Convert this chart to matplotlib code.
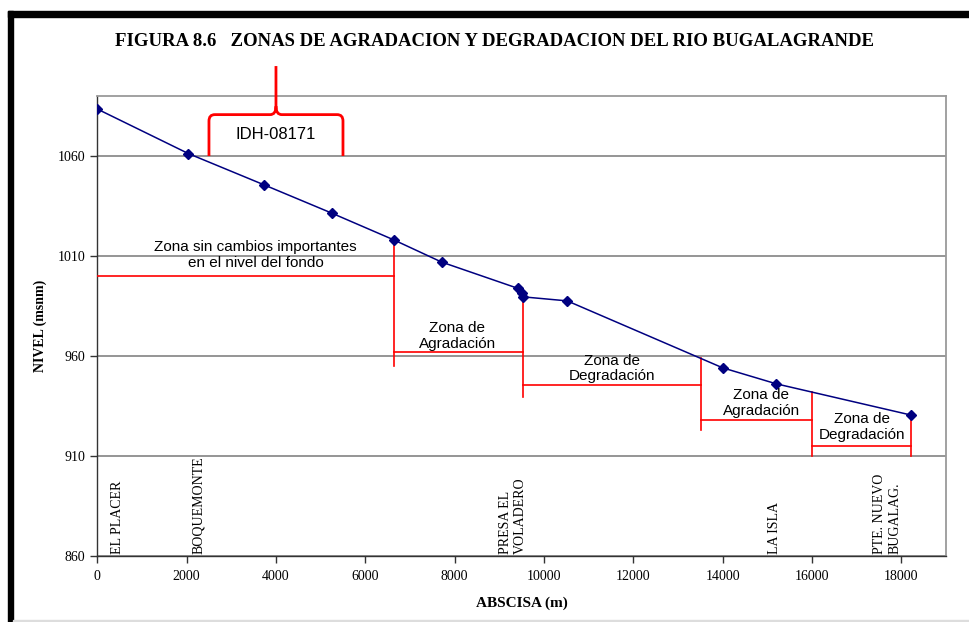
import numpy as np
import matplotlib
matplotlib.use("Agg")
import matplotlib.pyplot as plt
from matplotlib.path import Path
from matplotlib.patches import PathPatch, Rectangle

# perfil del fondo del rio (abscisa m, nivel msnm)
abscisa = [0, 2040, 3740, 5250, 6640, 7710, 9425, 9500, 9540, 10520, 14000, 15200, 18210]
nivel = [1083.5, 1061.2, 1045.5, 1031.4, 1018.0, 1006.9, 993.7, 991.5, 989.5, 987.5, 954.0, 946.0, 930.4]

# zonas
zona_x0 = [0, 6640, 9540, 13510, 16010]
zona_x1 = [6640, 9540, 13510, 16010, 18210]
zona_y = [1000, 962, 945.5, 928, 915]
zona_txt = ["Zona sin cambios importantes\nen el nivel del fondo",
            "Zona de\nAgradación", "Zona de\nDegradación",
            "Zona de\nAgradación", "Zona de\nDegradación"]
zona_tx = [3540, 8055, 11520, 14860, 17120]
zona_ty = [1010.3, 970, 953.6, 936.3, 924.5]

# cortes verticales entre zonas
corte_x = [6640, 9540, 13510, 16010, 18210]
corte_ytop = [1018, 989.5, 958.7, 942, 930.4]
corte_ybot = [955, 939.5, 923, 910, 910]

# sitios
sitios = ["EL PLACER", "BOQUEMONTE", "PRESA EL\nVOLADERO", "LA ISLA", "PTE. NUEVO\nBUGALAG."]
sitio_x = [463, 2277, 9307, 15150, 17680]

# llave IDH
idh_x0, idh_x1, idh_y0, idh_y1, idh_top = 2500, 5500, 1060, 1080.7, 1105

serif = "Liberation Serif"
sans = "Liberation Sans"
rojo = "#ff0000"

fig = plt.figure(figsize=(9.7, 6.22), dpi=100)
ax = fig.add_axes([0.1003, 0.1066, 0.875, 0.739])

ax.plot(abscisa, nivel, color="#000080", lw=1.1, marker="D", ms=4.8, zorder=5)

ax.set_xlim(0, 19000)
ax.set_ylim(860, 1090)
ax.set_xticks(np.arange(0, 18001, 2000))
ax.set_yticks([860, 910, 960, 1010, 1060])
ax.yaxis.grid(True, color="#8c8c8c", lw=1.3)
ax.set_axisbelow(True)
for lab in ax.get_xticklabels() + ax.get_yticklabels():
    lab.set_fontfamily(serif)
    lab.set_fontsize(10)
ax.tick_params(axis="both", direction="out", length=5, width=1, colors="#333333", labelcolor="black")
ax.tick_params(axis="x", pad=5)
for s in ["top", "right"]:
    ax.spines[s].set_color("#9a9a9a")
    ax.spines[s].set_linewidth(1.3)
for s in ["left", "bottom"]:
    ax.spines[s].set_color("#333333")
    ax.spines[s].set_linewidth(1.0)

ax.set_xlabel("ABSCISA (m)", fontfamily=serif, fontweight="bold", fontsize=11, labelpad=10)
ax.set_ylabel("NIVEL (msnm)", fontfamily=serif, fontweight="bold", fontsize=10, labelpad=8)

# zonas
for x0, x1, y in zip(zona_x0, zona_x1, zona_y):
    ax.plot([x0, x1], [y, y], color=rojo, lw=1.2, zorder=3)
for x, yt, yb in zip(corte_x, corte_ytop, corte_ybot):
    ax.plot([x, x], [yt, yb], color=rojo, lw=1.2, zorder=3)
for t, x, y in zip(zona_txt, zona_tx, zona_ty):
    ax.text(x, y, t, ha="center", va="center", fontfamily=sans, fontsize=11, linespacing=1.15, zorder=6)

# sitios
for t, x in zip(sitios, sitio_x):
    ax.text(x, 861, t, rotation=90, ha="center", va="bottom", multialignment="left",
            fontfamily=serif, fontsize=10, linespacing=1.2)

# llave IDH-08171
xm = (idh_x0 + idh_x1) / 2
rx, ry = 130, 3.2
verts = [(idh_x0, idh_y0), (idh_x0, idh_y1 - ry), (idh_x0, idh_y1), (idh_x0 + rx, idh_y1),
         (xm - rx, idh_y1), (xm, idh_y1), (xm, idh_y1 + ry + 1),
         (xm, idh_top),
         (xm, idh_y1 + ry + 1), (xm, idh_y1), (xm + rx, idh_y1),
         (idh_x1 - rx, idh_y1), (idh_x1, idh_y1), (idh_x1, idh_y1 - ry), (idh_x1, idh_y0)]
codes = [Path.MOVETO, Path.LINETO, Path.CURVE3, Path.CURVE3,
         Path.LINETO, Path.CURVE3, Path.CURVE3,
         Path.LINETO,
         Path.MOVETO, Path.CURVE3, Path.CURVE3,
         Path.LINETO, Path.CURVE3, Path.CURVE3, Path.LINETO]
ax.add_patch(PathPatch(Path(verts, codes), fill=False, edgecolor=rojo, lw=2, clip_on=False, zorder=4))
ax.text(xm, 1071, "IDH-08171", ha="center", va="center", fontfamily=sans, fontsize=12)

fig.text(495 / 970, 1 - 41 / 622,
         "FIGURA 8.6   ZONAS DE AGRADACION Y DEGRADACION DEL RIO BUGALAGRANDE",
         ha="center", va="center", fontfamily=serif, fontweight="bold", fontsize=13.5)

# marco de la pagina
fig.patches.append(Rectangle((8 / 970, 0), 5 / 970, 1 - 11 / 622, transform=fig.transFigure,
                             color="black", zorder=10))
fig.patches.append(Rectangle((8 / 970, 1 - 17 / 622), 1, 6 / 622, transform=fig.transFigure,
                             color="black", zorder=10))
fig.patches.append(Rectangle((13 / 970, 0), 1, 2 / 622, transform=fig.transFigure,
                             color="#dddddd", zorder=10))

fig.savefig("out.png", dpi=100)
